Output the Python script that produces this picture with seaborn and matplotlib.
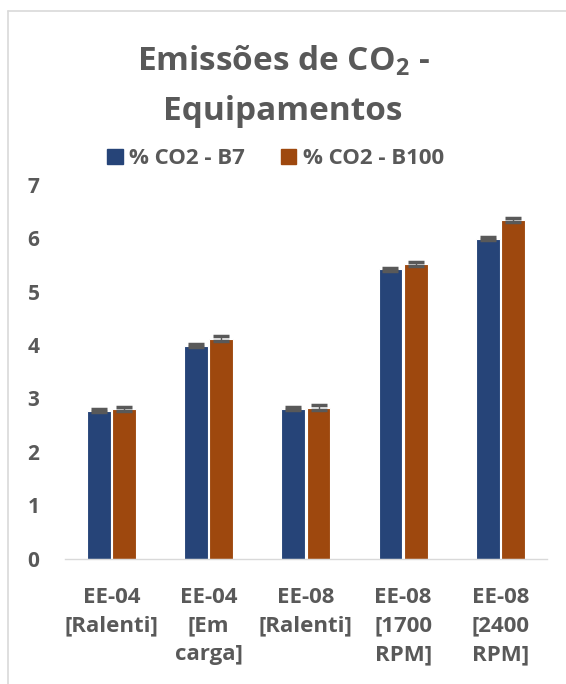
import matplotlib
matplotlib.use("Agg")
import matplotlib.pyplot as plt
import matplotlib.patches as mpatches
import seaborn as sns
import pandas as pd
import numpy as np

categories = ["EE-04\n[Ralenti]", "EE-04\n[Em\ncarga]", "EE-08\n[Ralenti]",
              "EE-08\n[1700\nRPM]", "EE-08\n[2400\nRPM]"]
series_names = ["% CO2 - B7", "% CO2 - B100"]
co2_b7 = [2.77, 3.99, 2.81, 5.42, 5.99]
co2_b100 = [2.80, 4.12, 2.83, 5.52, 6.34]
err_b7 = [0.03, 0.03, 0.03, 0.03, 0.03]
err_b100 = [0.04, 0.04, 0.04, 0.04, 0.04]
yticks = [0, 1, 2, 3, 4, 5, 6, 7]

colors = ["#264478", "#9E480E"]
text_color = "#595959"

df = pd.DataFrame({
    "cat": categories * 2,
    "serie": [series_names[0]] * 5 + [series_names[1]] * 5,
    "valor": co2_b7 + co2_b100,
})

sns.set_style("white")
plt.rcParams["font.family"] = ["Open Sans", "DejaVu Sans"]
plt.rcParams["font.weight"] = "bold"

fig = plt.figure(figsize=(5.66, 6.84), dpi=100)
ax = fig.add_axes([0.115, 0.183, 0.851, 0.547])

sns.barplot(data=df, x="cat", y="valor", hue="serie", order=categories,
            hue_order=series_names, palette=colors, errorbar=None,
            width=0.52, gap=0.06, edgecolor="white", linewidth=0.8,
            saturation=1, ax=ax, legend=False)

# small error caps on each bar
errs = err_b7 + err_b100
vals = co2_b7 + co2_b100
for patch, v, e in zip(ax.patches, vals, errs):
    xc = patch.get_x() + patch.get_width() / 2
    ax.errorbar(xc, v, yerr=e, fmt="none", ecolor="#595959",
                elinewidth=1.0, capsize=6, capthick=2.5, zorder=5)

ax.set_ylim(0, 7)
ax.set_yticks(yticks)
ax.set_yticklabels([str(t) for t in yticks], fontsize=15, color=text_color,
                   fontweight="bold")
ax.tick_params(axis="x", labelsize=16, colors=text_color, length=0, pad=20)
ax.tick_params(axis="y", length=0, pad=27)
for lbl in ax.get_xticklabels():
    lbl.set_fontweight("bold")
    lbl.set_verticalalignment("top")
    lbl.set_linespacing(1.48)
for lbl in ax.get_yticklabels():
    lbl.set_horizontalalignment("left")
ax.set_xlabel("")
ax.set_ylabel("")
for s in ["left", "right", "top"]:
    ax.spines[s].set_visible(False)
ax.spines["bottom"].set_color("#D9D9D9")
ax.spines["bottom"].set_linewidth(1)

# two-line title
fig.text(0.5, 1 - 70 / 684, "Emissões de CO$_\\mathregular{2}$ -",
         ha="center", va="baseline", fontsize=24, fontweight="bold",
         color=text_color)
fig.text(0.5, 1 - 120 / 684, "Equipamentos",
         ha="center", va="baseline", fontsize=24, fontweight="bold",
         color=text_color)

handles = [mpatches.Patch(color=c, label=n) for c, n in zip(colors, series_names)]
leg = fig.legend(handles=handles, loc="center", bbox_to_anchor=(0.487, 0.768),
                 ncol=2, frameon=False, fontsize=16, handlelength=0.7,
                 handleheight=0.7, handletextpad=0.3, columnspacing=1.6)
for t in leg.get_texts():
    t.set_color(text_color)
    t.set_fontweight("bold")

# chart frame edge
fig.add_artist(plt.Line2D([0.014, 0.014], [0, 0.984], color="#D9D9D9", lw=1.2))
fig.add_artist(plt.Line2D([0.014, 1.0], [0.984, 0.984], color="#D9D9D9", lw=1.2))

fig.savefig("out.png", dpi=100)
